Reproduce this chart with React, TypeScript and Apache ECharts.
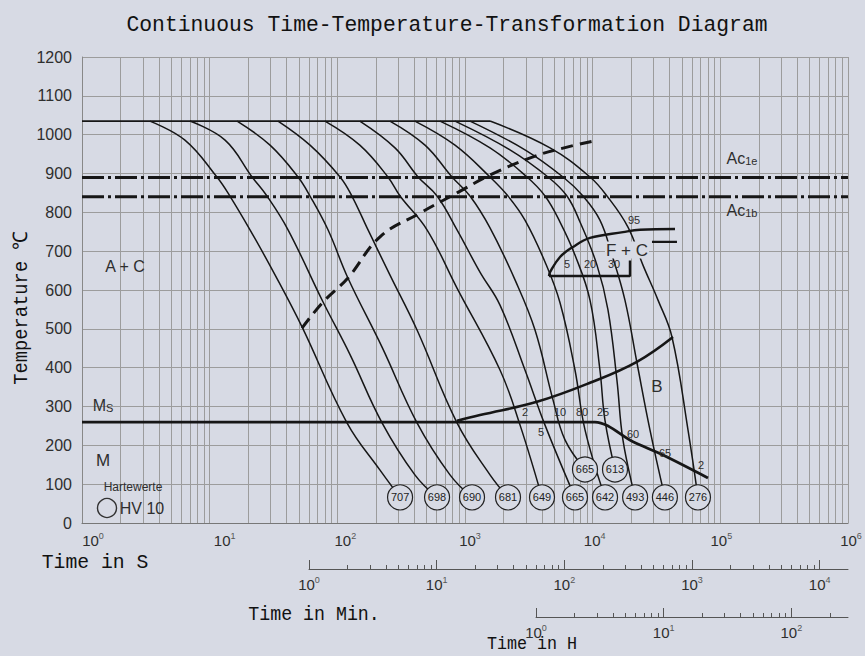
import { useEffect, useRef } from 'react';
import * as echarts from 'echarts';

// ---------- data ----------
const timeDecades = [1, 10, 100, 1000, 10000, 100000, 1000000];
const minuteDecades = [1, 10, 100, 1000, 10000];
const hourDecades = [1, 10, 100];

const austenitizingLine = [[1, 1035], [1570, 1035]];
const ac1eLine = [[1, 890], [1000000, 890]];
const ac1bLine = [[1, 840], [1000000, 840]];
const msLine = [[1, 260], [10400, 260], [20700, 209], [35500, 175], [80000, 116]];
const bainiteStart = [[866, 263], [1310, 278], [3660, 312], [9530, 361], [22200, 415], [42600, 479]];
const ferriteStart = [[4550, 636], [4635, 646], [5550, 685], [7010, 711], [9530, 734], [17290, 749], [23480, 755], [44150, 757]];
const ferriteFinish = [[4550, 636], [19600, 636], [19600, 676]];
const pearliteStub = [[29150, 724], [45750, 724]];
const carbideLine = [[52.9, 502], [77.3, 569], [121, 631], [216, 737], [444, 798], [866, 850], [1570, 896], [3410, 943], [6300, 968], [11000, 986]];

const curve1 = [[3.4, 1035], [6.4, 986], [11.4, 891], [14.4, 842], [20.7, 755], [32.5, 639], [52.9, 505], [119, 258], [216, 136], [310, 66]];
const curve2 = [[7.0, 1035], [13.2, 986], [21.5, 891], [28.1, 842], [41.1, 755], [77.3, 569], [126, 433], [224, 258], [405, 124], [604, 66]];
const curve3 = [[16.4, 1035], [29.7, 973], [49.2, 891], [61.1, 842], [84.5, 755], [121, 631], [224, 453], [421, 258], [763, 124], [1135, 66]];
const curve4 = [[34.3, 1035], [61.1, 973], [105, 891], [130, 842], [171, 760], [258, 639], [421, 497], [866, 258], [1570, 124], [2172, 66]];
const curve5 = [[80, 1035], [150, 973], [249, 891], [310, 842], [504, 755], [866, 605], [1880, 394], [2700, 252], [4010, 66]];
const curve6 = [[150, 1035], [283, 966], [429, 891], [604, 842], [866, 755], [1310, 646], [1880, 561], [2950, 394], [4235, 252], [7270, 66]];
const curve7 = [[258, 1035], [486, 973], [791, 891], [1094, 842], [1570, 760], [2465, 626], [3535, 497], [4890, 317], [6070, 214], [8710, 138]];
const curve8 = [[405, 1035], [835, 973], [1570, 891], [2172, 842], [2950, 780], [4235, 672], [5550, 567], [7270, 394], [8710, 240], [12500, 66]];
const curve9 = [[637, 1035], [1570, 966], [3060, 891], [4235, 842], [5550, 775], [7270, 690], [9530, 574], [11400, 394], [12480, 265], [14960, 138]];
const curve10 = [[835, 1035], [2250, 961], [4470, 891], [6290, 842], [7960, 775], [10810, 664], [13180, 549], [15490, 368], [17260, 214], [21500, 66]];
const curve11 = [[1094, 1035], [2950, 961], [5860, 891], [8400, 842], [11400, 780], [14170, 690], [17900, 574], [22250, 412], [28100, 240], [36800, 66]];
const curve12 = [[1570, 1035], [4635, 966], [9530, 891], [12950, 842], [18900, 762], [24770, 664], [32500, 574], [41800, 479], [55800, 240], [66800, 66]];
const coolingCurves = [curve1, curve2, curve3, curve4, curve5, curve6, curve7, curve8, curve9, curve10, curve11, curve12];

const hardnessLowerTimes = [310, 604, 1135, 2172, 4010, 7270, 12500, 21500, 36800, 66800];
const hardnessLowerValues = ['707', '698', '690', '681', '649', '665', '642', '493', '446', '276'];
const hardnessUpperTimes = [8710, 14960];
const hardnessUpperValues = ['665', '613'];
const hardnessLowerTemp = 66;
const hardnessUpperTemp = 138;

// ---------- helpers ----------
const BG = '#d7dae4';
const INK = '#161616';
const TXT = '#2e2e2e';
const GRIDC = '#9c9c9c';
const SANS = '"Liberation Sans", Arial, sans-serif';
const MONO = '"Liberation Mono", "DejaVu Sans Mono", monospace';

function minorValues(maxV: number) {
  const out: number[] = [];
  for (let d = 1; d <= maxV; d *= 10) {
    for (let m = 1; m <= 9; m++) {
      const v = d * m;
      if (v <= maxV * 1.0001) out.push(v);
    }
  }
  return out;
}

const powRich = {
  b: { fontSize: 15, fontFamily: SANS, color: TXT, lineHeight: 18 },
  s: { fontSize: 9, fontFamily: SANS, color: '#555', verticalAlign: 'top', lineHeight: 10 },
  p0: { width: 22 }, p1: { width: 30 }, p2: { width: 16 }, p3: { width: 10 },
  p4: { width: 4 }, p5: { width: 2 }, p6: { width: 6 },
};
const powFormatter = (withPad: boolean) => (v: number) => {
  const e = Math.round(Math.log10(v));
  return `${withPad ? `{p${e}|}` : ''}{b|10}{s|${e}}`;
};

function lineSeries(data: number[][], width: number, extra: any = {}) {
  return {
    type: 'line', xAxisIndex: 0, yAxisIndex: 0, data, symbol: 'none', silent: true,
    animation: false, z: 3,
    lineStyle: { color: INK, width, ...(extra.lineStyle || {}) },
    smooth: extra.smooth ?? 0,
  };
}

function txt(x: number, y: number, text: string, fontSize = 16, extra: any = {}) {
  return {
    type: 'text', x, y, z: 50, silent: true, ...extra,
    style: { text, fontSize, fontFamily: SANS, fill: TXT, align: 'center', verticalAlign: 'middle', ...(extra.style || {}) },
  };
}

function monoTxt(x: number, y: number, text: string, fontSize: number, scaleX: number, rotation = 0) {
  return {
    type: 'text', x, y, scaleX, rotation, z: 50, silent: true,
    style: { text, fontSize, fontFamily: MONO, fill: '#111', align: 'center', verticalAlign: 'middle' },
  };
}

function subRich(main: string, sub: string) {
  return {
    text: `{a|${main}}{b|${sub}}`,
    rich: {
      a: { fontSize: 16, fontFamily: SANS, color: TXT },
      b: { fontSize: 11, fontFamily: SANS, color: TXT, verticalAlign: 'bottom', padding: [6, 0, 0, 0] },
    },
  };
}

function rulerAxes(gridIndex: number, min: number, max: number, decades: number[], minor: number[], long: boolean) {
  return {
    type: 'log', gridIndex, min, max, position: 'bottom',
    axisLine: { show: !long, lineStyle: { color: '#555', width: 1 } },
    axisTick: { show: true, inside: true, length: long ? 9 : 4, customValues: long ? decades : minor, lineStyle: { color: '#555', width: 1 } },
    axisLabel: long
      ? { show: false }
      : { show: true, customValues: decades, margin: 6, formatter: powFormatter(false), rich: powRich, showMinLabel: true, showMaxLabel: true },
    splitLine: { show: false },
  };
}

export default function App() {
  const ref = useRef<HTMLDivElement>(null);
  useEffect(() => {
    if (!ref.current) return;
    const chart = echarts.init(ref.current, undefined, { renderer: 'svg' });
    const L = 82, R = 17;
    const minLeft = L + Math.log10(60) * (766 / 6);
    const hourLeft = L + Math.log10(3600) * (766 / 6);
    const minMinor = minorValues(1e6 / 60).filter((v) => v <= 10000);
    const hourMinor = minorValues(1e6 / 3600);

    const series: any[] = [];
    series.push(lineSeries(austenitizingLine, 1.8));
    series.push(lineSeries(ac1eLine, 3, { lineStyle: { type: [22, 4, 3, 4] } }));
    series.push(lineSeries(ac1bLine, 3, { lineStyle: { type: [22, 4, 3, 4] } }));
    series.push(lineSeries(msLine, 2.8, { smooth: 0.3 }));
    series.push(lineSeries(bainiteStart, 2.6, { smooth: 0.4 }));
    series.push(lineSeries(ferriteStart, 2.4, { smooth: 0.4 }));
    series.push(lineSeries(ferriteFinish, 2.4));
    series.push(lineSeries(pearliteStub, 2.4));
    series.push(lineSeries(carbideLine, 3, { smooth: 0.4, lineStyle: { type: [12, 7] } }));
    coolingCurves.forEach((c) => series.push(lineSeries(c, 1.5, { smooth: 0.4 })));

    const circleStyle = {
      type: 'scatter', xAxisIndex: 0, yAxisIndex: 0, symbol: 'circle', symbolSize: 25, silent: true, z: 6,
      itemStyle: { color: BG, borderColor: '#222', borderWidth: 1.2, opacity: 1 },
      label: { show: true, position: 'inside', formatter: (p: any) => p.value[2], fontSize: 11, fontFamily: SANS, color: '#222' },
    };
    series.push({ ...circleStyle, data: hardnessLowerTimes.map((t, i) => [t, hardnessLowerTemp, hardnessLowerValues[i]]) });
    series.push({ ...circleStyle, data: hardnessUpperTimes.map((t, i) => [t, hardnessUpperTemp, hardnessUpperValues[i]]) });

    const option: any = {
      animation: false,
      backgroundColor: BG,
      grid: [
        { left: L, right: R, top: 57, height: 466 },
        { left: minLeft, right: R, top: 559, height: 10 },
        { left: minLeft, right: R, top: 559, height: 10 },
        { left: hourLeft, right: R, top: 607, height: 10 },
        { left: hourLeft, right: R, top: 607, height: 10 },
      ],
      xAxis: [
        {
          type: 'log', gridIndex: 0, min: 1, max: 1000000, position: 'bottom',
          axisLine: { show: true, lineStyle: { color: '#777', width: 1.2 } },
          axisTick: { show: false, customValues: minorValues(1000000) },
          axisLabel: {
            customValues: timeDecades, margin: 8, formatter: powFormatter(true), rich: powRich,
            showMinLabel: true, showMaxLabel: true,
          },
          splitLine: { show: true, lineStyle: { color: GRIDC, width: 1 } },
        },
        rulerAxes(1, 1, 1e6 / 60, minuteDecades, minMinor, false),
        rulerAxes(2, 1, 1e6 / 60, minuteDecades, minMinor, true),
        rulerAxes(3, 1, 1e6 / 3600, hourDecades, hourMinor, false),
        rulerAxes(4, 1, 1e6 / 3600, hourDecades, hourMinor, true),
      ],
      yAxis: [
        {
          type: 'value', gridIndex: 0, min: 0, max: 1200, interval: 100,
          axisLine: { show: true, lineStyle: { color: '#888', width: 1 } },
          axisTick: { show: false },
          axisLabel: { fontSize: 16, fontFamily: SANS, color: TXT, margin: 10, formatter: (v: number) => String(v) },
          splitLine: { show: true, lineStyle: { color: GRIDC, width: 1 } },
        },
        { type: 'value', gridIndex: 1, min: 0, max: 1, show: false },
        { type: 'value', gridIndex: 2, min: 0, max: 1, show: false },
        { type: 'value', gridIndex: 3, min: 0, max: 1, show: false },
        { type: 'value', gridIndex: 4, min: 0, max: 1, show: false },
      ],
      graphic: [
        monoTxt(447, 25, 'Continuous Time-Temperature-Transformation Diagram', 23, 0.93),
        monoTxt(22, 308, 'Temperature \u2103', 20, 0.94, Math.PI / 2),
        monoTxt(95, 562, 'Time in S', 21, 0.94),
        monoTxt(314, 615, 'Time in Min.', 21, 0.87),
        monoTxt(532, 644, 'Time in H', 19, 0.88),
        txt(125, 266, 'A + C', 16),
        txt(103, 460, 'M', 17),
        txt(103, 405, '', 16, { style: subRich('M', 'S') }),
        txt(657, 386, 'B', 17),
        txt(627, 250, 'F + C', 17, { style: { backgroundColor: BG, padding: [0, 1, 0, 1] } }),
        txt(742, 158, '', 16, { style: subRich('Ac', '1e') }),
        txt(742, 210, '', 16, { style: subRich('Ac', '1b') }),
        txt(133, 487, 'Hartewerte', 12),
        { type: 'circle', shape: { cx: 107, cy: 508, r: 9.5 }, z: 50, silent: true, style: { fill: 'none', stroke: '#333', lineWidth: 1.4 } },
        txt(142, 508, 'HV 10', 16),
        txt(634, 220, '95', 11),
        txt(567, 264, '5', 11),
        txt(590, 264, '20', 11),
        txt(614, 264, '30', 11),
        txt(525, 412, '2', 11),
        txt(541, 432, '5', 11),
        txt(560, 412, '10', 11),
        txt(582, 412, '80', 11),
        txt(603, 412, '25', 11),
        txt(633, 434, '60', 11),
        txt(665, 453, '65', 11),
        txt(701, 465, '2', 11),
      ],
      series,
    };
    chart.setOption(option);
    return () => chart.dispose();
  }, []);
  return (
    <div
      ref={ref}
      style={{ position: 'fixed', left: 0, top: 0, width: 865, height: 656, background: BG }}
    />
  );
}
